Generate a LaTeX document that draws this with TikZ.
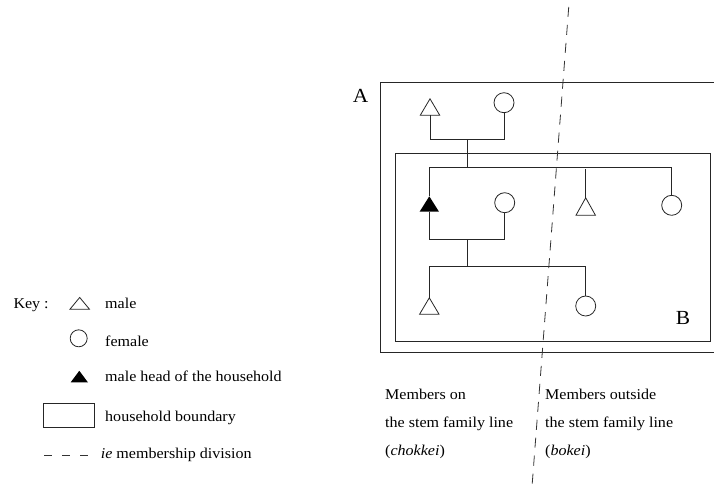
\documentclass[tikz,border=0pt]{standalone}
\usepackage{fontspec}
\setmainfont{Liberation Serif}[FakeStretch=1.07]
\begin{document}
\begin{tikzpicture}[x=1pt,y=-1pt,
  ln/.style={draw=black!85, line width=0.8pt},
  tri/.style={rectangle, inner sep=0pt, minimum width=19pt, minimum height=16pt},
  fem/.style={circle, ln, inner sep=0pt, minimum size=20pt},
  boxr/.style={rectangle, ln, inner sep=0pt},
  txt/.style={anchor=base west, inner sep=0pt, font=\fontsize{15}{17}\selectfont},
  big/.style={inner sep=0pt, font=\fontsize{20}{22}\selectfont},
  divl/.style={draw=black!80, line width=0.8pt, dash pattern=on 10pt off 8pt}
]
\useasboundingbox (0,0) rectangle (714,490);
% households
\node[boxr, minimum width=335.3pt, minimum height=270pt] (A) at (548.35,217.3) {};
\node[boxr, minimum width=314.3pt, minimum height=188.4pt] (B) at (552.85,247.5) {};
\node[big] (la) at (360.7,95.7) {A};
\node[big] (lb) at (683,317.7) {B};
% generation 1
\node[tri] (t1) at (430,107) {};
\draw[ln] (t1.south west) -- (t1.south east) -- (t1.north) -- cycle;
\node[fem] (c1) at (504,102.7) {};
\coordinate (j1) at (467,139.3);
\coordinate (s1) at (467,167.3);
\draw[ln] (t1.south) |- (j1) -| (c1.south);
\draw[ln] (j1) -- (s1);
% generation 2
\node[tri, minimum height=15pt] (h) at (429.3,204) {};
\fill[black] (h.south west) -- (h.south east) -- (h.north) -- cycle;
\node[fem] (c2) at (504.7,202.7) {};
\node[tri, minimum height=17pt] (t3) at (585.7,206.5) {};
\draw[ln] (t3.south west) -- (t3.south east) -- (t3.north) -- cycle;
\node[fem] (c3) at (671.7,205.3) {};
\coordinate (g3) at (585.7,169.3);
\draw[ln] (h.north) |- (s1) -| (c3.north);
\draw[ln] (t3.north) -- (g3);
\coordinate (j2) at (467,239.3);
\coordinate (s2) at (467,266.7);
\draw[ln] (h.south) |- (j2) -| (c2.south);
\draw[ln] (j2) -- (s2);
% generation 3
\node[tri] (t4) at (429.3,306) {};
\draw[ln] (t4.south west) -- (t4.south east) -- (t4.north) -- cycle;
\node[fem] (c4) at (585.7,306) {};
\draw[ln] (t4.north) |- (s2) -| (c4.north);
% division line
\coordinate (d1) at (569.5,-3);
\coordinate (d2) at (531.5,493);
\draw[divl, dash phase=-10pt] (d1) -- (d2);
% bottom texts
\node[txt] (m1) at (385,399) {Members on};
\node[txt] (m2) at (385,427) {the stem family line};
\node[txt] (m3) at (385,455) {(\textit{chokkei})};
\node[txt] (o1) at (545,399) {Members outside};
\node[txt] (o2) at (545,427) {the stem family line};
\node[txt] (o3) at (545,455) {(\textit{bokei})};
% key
\node[txt] (key) at (13.3,308.3) {Key :};
\node[tri, minimum width=19pt, minimum height=11.3pt] (kt) at (79.7,303.3) {};
\draw[ln] (kt.south west) -- (kt.south east) -- (kt.north) -- cycle;
\node[txt] (k1) at (105,308.3) {male};
\node[fem, minimum size=17pt] (kc) at (78.7,338.3) {};
\node[txt] (k2) at (105,346.7) {female};
\node[tri, minimum width=17pt, minimum height=11.3pt] (kh) at (79.3,376.6) {};
\fill[black] (kh.south west) -- (kh.south east) -- (kh.north) -- cycle;
\node[txt] (k3) at (105,381.7) {male head of the household};
\node[boxr, minimum width=50.7pt, minimum height=24pt] (kb) at (68.65,415.3) {};
\node[txt] (k4) at (105,421) {household boundary};
\coordinate (kd1) at (44,455);
\coordinate (kd2) at (90,455);
\draw[divl, dash pattern=on 8pt off 10pt] (kd1) -- (kd2);
\node[txt] (k5) at (100.7,458.3) {\textit{ie} membership division};
\end{tikzpicture}
\end{document}
